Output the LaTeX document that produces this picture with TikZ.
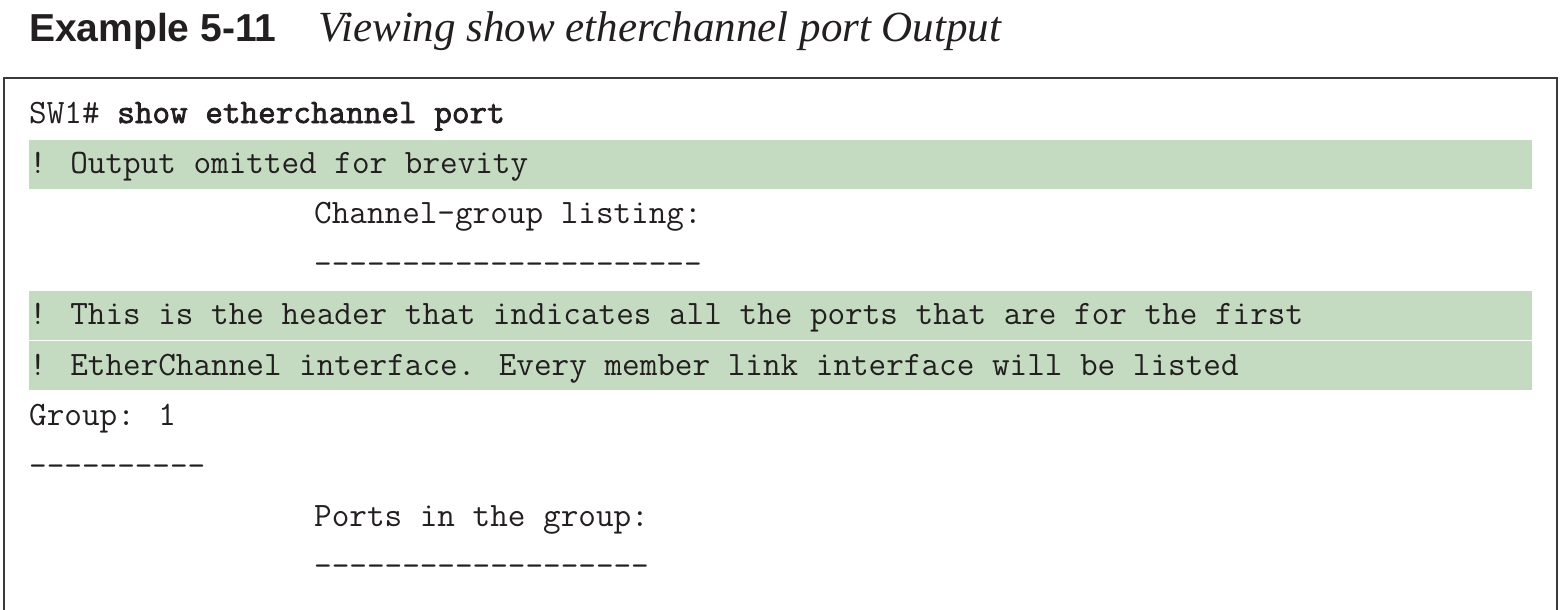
\documentclass[tikz,border=0pt]{standalone}
\usepackage{fontspec}
\setmainfont{Liberation Serif}
\setsansfont{Liberation Sans}
\newfontfamily\codefont{Latin Modern Mono}
\newfontfamily\codebold{Latin Modern Mono}[FakeBold=2.2]
\definecolor{band}{HTML}{C4DBC1}
\definecolor{ink}{HTML}{231F20}
\definecolor{frame}{HTML}{3A3A3A}
\begin{document}
\begin{tikzpicture}[x=1pt,y=-1pt,
  code/.style={anchor=base west, inner sep=0pt, font=\fontsize{34.2}{35}\selectfont\codefont, text=ink},
  titlebox/.style={anchor=base west, inner sep=0pt, text=ink}]
\useasboundingbox (0,0) rectangle (1560,610);
\clip (0,0) rectangle (1560,610);
% shaded bands
\fill[band] (29,140) rectangle (1532,189);
\fill[band] (29,291) rectangle (1532,340);
\fill[band] (29,341) rectangle (1532,390);
% frame
\draw[line width=2pt, draw=frame] (3.5,620) -- (3.5,78) -- (1557,78) -- (1557,620);
% title
\node[titlebox, font=\fontsize{39}{40}\selectfont\sffamily\bfseries] (num) at (29,42) {Example 5-11};
\node[titlebox, font=\fontsize{43}{44}\selectfont\itshape] (cap) at (318,42) {Viewing show etherchannel port Output};
% code lines
\node[code] (l1) at (29,123) {SW1\# {\codebold show etherchannel port}};
\node[code] (l2) at (29,173.5) {! Output omitted for brevity};
\node[code] (l3) at (314,223.5) {Channel-group listing:};
\node[code] (l4) at (314,274) {----------------------};
\node[code] (l5) at (29,324.5) {! This is the header that indicates all the ports that are for the first};
\node[code] (l6) at (29,375) {! EtherChannel interface. Every member link interface will be listed};
\node[code] (l7) at (29,425.5) {Group: 1};
\node[code] (l8) at (29,476) {----------};
\node[code] (l9) at (314,526) {Ports in the group:};
\node[code] (l10) at (314,576) {-------------------};
\end{tikzpicture}
\end{document}
